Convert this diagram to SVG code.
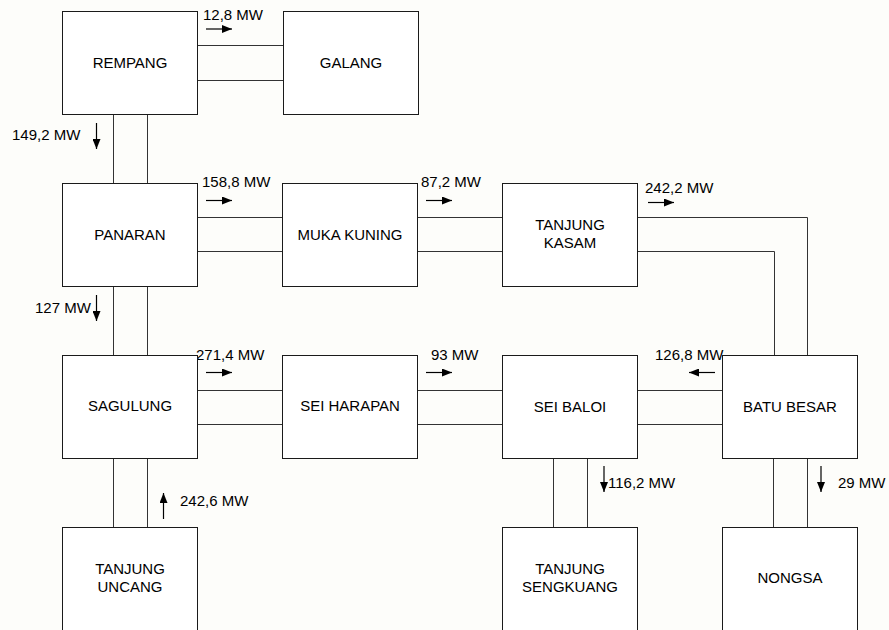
<svg xmlns="http://www.w3.org/2000/svg" width="889" height="630" viewBox="0 0 889 630">
<defs>
<style>
.box{fill:#ffffff;stroke:#1a1a1a;stroke-width:1}
.ln{fill:none;stroke:#333333;stroke-width:1}
.ar{fill:none;stroke:#000;stroke-width:1.2}
.t{font-family:"Liberation Sans",Arial,sans-serif;font-size:15px;fill:#000}
.c{text-anchor:middle}
</style>
<marker id="ah" viewBox="0 0 10 8" refX="10" refY="4" markerWidth="10" markerHeight="8" markerUnits="userSpaceOnUse" orient="auto">
<path d="M0,0 L10,4 L0,8 Z" fill="#000"/>
</marker>
</defs>
<rect width="889" height="630" fill="#fdfdfa"/>
<g id="connectors">
<line class="ln" x1="198" y1="45.5" x2="283" y2="45.5"/>
<line class="ln" x1="198" y1="80.5" x2="283" y2="80.5"/>
<line class="ln" x1="113.5" y1="114" x2="113.5" y2="183"/>
<line class="ln" x1="147.5" y1="114" x2="147.5" y2="183"/>
<line class="ln" x1="198" y1="217.5" x2="282" y2="217.5"/>
<line class="ln" x1="198" y1="251.5" x2="282" y2="251.5"/>
<line class="ln" x1="417" y1="217.5" x2="502" y2="217.5"/>
<line class="ln" x1="417" y1="251.5" x2="502" y2="251.5"/>
<polyline class="ln" points="638,217.5 807.5,217.5 807.5,355"/>
<polyline class="ln" points="638,251.5 774.5,251.5 774.5,355"/>
<line class="ln" x1="113.5" y1="286" x2="113.5" y2="355"/>
<line class="ln" x1="147.5" y1="286" x2="147.5" y2="355"/>
<line class="ln" x1="198" y1="390.5" x2="282" y2="390.5"/>
<line class="ln" x1="198" y1="424.5" x2="282" y2="424.5"/>
<line class="ln" x1="417" y1="390.5" x2="502" y2="390.5"/>
<line class="ln" x1="417" y1="424.5" x2="502" y2="424.5"/>
<line class="ln" x1="638" y1="390.5" x2="723" y2="390.5"/>
<line class="ln" x1="638" y1="424.5" x2="723" y2="424.5"/>
<line class="ln" x1="113.5" y1="458" x2="113.5" y2="527"/>
<line class="ln" x1="147.5" y1="458" x2="147.5" y2="527"/>
<line class="ln" x1="553.5" y1="458" x2="553.5" y2="527"/>
<line class="ln" x1="587.5" y1="458" x2="587.5" y2="527"/>
<line class="ln" x1="773.5" y1="458" x2="773.5" y2="527"/>
<line class="ln" x1="807.5" y1="458" x2="807.5" y2="527"/>
</g>
<g id="flows">
<line class="ar" x1="206" y1="29" x2="232" y2="29" marker-end="url(#ah)"/>
<text class="t" x="203" y="19.5">12,8 MW</text>
<line class="ar" x1="96.5" y1="123" x2="96.5" y2="149" marker-end="url(#ah)"/>
<text class="t" x="12" y="140">149,2 MW</text>
<line class="ar" x1="206" y1="200.5" x2="232" y2="200.5" marker-end="url(#ah)"/>
<text class="t" x="202" y="187">158,8 MW</text>
<line class="ar" x1="426" y1="200.5" x2="452" y2="200.5" marker-end="url(#ah)"/>
<text class="t" x="421" y="187">87,2 MW</text>
<line class="ar" x1="648" y1="202.5" x2="674" y2="202.5" marker-end="url(#ah)"/>
<text class="t" x="645" y="192.5">242,2 MW</text>
<line class="ar" x1="96.5" y1="295" x2="96.5" y2="321" marker-end="url(#ah)"/>
<text class="t" x="35" y="312.5">127 MW</text>
<line class="ar" x1="206" y1="372.5" x2="232" y2="372.5" marker-end="url(#ah)"/>
<text class="t" x="196" y="359.5">271,4 MW</text>
<line class="ar" x1="426" y1="372.5" x2="452" y2="372.5" marker-end="url(#ah)"/>
<text class="t" x="431" y="359.5">93 MW</text>
<line class="ar" x1="715" y1="372.5" x2="689" y2="372.5" marker-end="url(#ah)"/>
<text class="t" x="655" y="359.5">126,8 MW</text>
<line class="ar" x1="163.5" y1="519" x2="163.5" y2="493" marker-end="url(#ah)"/>
<text class="t" x="180" y="506">242,6 MW</text>
<line class="ar" x1="604" y1="466" x2="604" y2="492" marker-end="url(#ah)"/>
<text class="t" x="608" y="487.5">116,2 MW</text>
<line class="ar" x1="821" y1="466" x2="821" y2="492" marker-end="url(#ah)"/>
<text class="t" x="838" y="487.5">29 MW</text>
</g>
<g id="rempang"><rect class="box" x="62.5" y="11.5" width="135" height="103"/><text class="t c" x="130" y="68">REMPANG</text></g>
<g id="galang"><rect class="box" x="283.5" y="11.5" width="135" height="103"/><text class="t c" x="351" y="68">GALANG</text></g>
<g id="panaran"><rect class="box" x="62.5" y="183.5" width="135" height="103"/><text class="t c" x="130" y="240">PANARAN</text></g>
<g id="muka-kuning"><rect class="box" x="282.5" y="183.5" width="135" height="103"/><text class="t c" x="350" y="239.5">MUKA KUNING</text></g>
<g id="tanjung-kasam"><rect class="box" x="502.5" y="183.5" width="135" height="103"/><text class="t c" x="570" y="230">TANJUNG</text><text class="t c" x="570" y="247.5">KASAM</text></g>
<g id="sagulung"><rect class="box" x="62.5" y="355.5" width="135" height="103"/><text class="t c" x="130" y="411">SAGULUNG</text></g>
<g id="sei-harapan"><rect class="box" x="282.5" y="355.5" width="135" height="103"/><text class="t c" x="350" y="411">SEI HARAPAN</text></g>
<g id="sei-baloi"><rect class="box" x="502.5" y="355.5" width="135" height="103"/><text class="t c" x="570" y="411.5">SEI BALOI</text></g>
<g id="batu-besar"><rect class="box" x="722.5" y="355.5" width="135" height="103"/><text class="t c" x="790" y="411.5">BATU BESAR</text></g>
<g id="tanjung-uncang"><rect class="box" x="62.5" y="527.5" width="135" height="120"/><text class="t c" x="130" y="573.5">TANJUNG</text><text class="t c" x="130" y="592">UNCANG</text></g>
<g id="tanjung-sengkuang"><rect class="box" x="502.5" y="527.5" width="135" height="120"/><text class="t c" x="570" y="573.5">TANJUNG</text><text class="t c" x="570" y="592">SENGKUANG</text></g>
<g id="nongsa"><rect class="box" x="722.5" y="527.5" width="135" height="120"/><text class="t c" x="790" y="583">NONGSA</text></g>
</svg>
